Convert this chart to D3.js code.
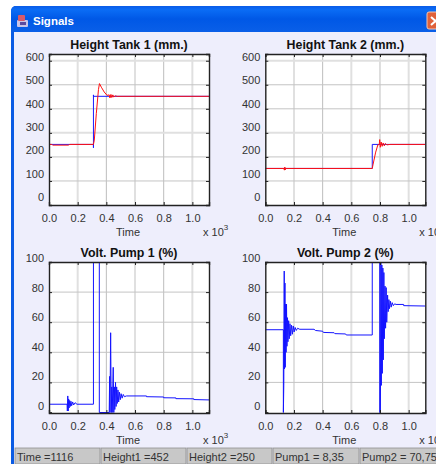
<!DOCTYPE html>
<html>
<head>
<meta charset="utf-8">
<script src="https://cdn.jsdelivr.net/npm/d3@7"></script>
<style>
  html, body { margin: 0; padding: 0; background: #fff; overflow: hidden; }
  svg { display: block; }
  text { font-family: "Liberation Sans", Arial, sans-serif; }
</style>
</head>
<body>
<svg id="win" width="436" height="464"></svg>
<script>
const timeTicks = [0, 200, 400, 600, 800, 1000];
const heightTicks = [0, 100, 200, 300, 400, 500, 600];
const voltTicks = [0, 20, 40, 60, 80, 100];
const statusLabels = ["Time =1116", "Height1 =452", "Height2 =250", "Pump1 = 8,35", "Pump2 = 70,75"];

// [time, value]
const tank1Setpoint = [[0, 252], [310, 252], [310, 238], [310, 458], [310, 452], [1116, 452]];
const tank1Level = [[0, 252], [20, 252], [25, 249], [135, 249], [145, 252], [310, 252], [316, 270], [330, 380], [345, 480], [352, 505], [365, 490], [385, 470], [405, 456], [420, 458], [425, 445], [432, 460], [438, 447], [445, 458], [452, 449], [462, 454], [475, 452], [1116, 452]];
const tank2Setpoint = [[0, 152], [746, 152], [746, 252], [1116, 252]];
const tank2Level = [[0, 152], [130, 152], [133, 145], [136, 158], [139, 146], [142, 152], [746, 152], [752, 170], [770, 220], [785, 250], [795, 252], [798, 272], [802, 240], [808, 262], [815, 244], [822, 258], [830, 246], [838, 256], [848, 250], [870, 252], [1116, 252]];
const pump1Volt = [[0, 5.5], [126, 5.5], [128, 1], [131, 11], [134, 1], [137, 9], [140, 3], [144, 8], [148, 4], [153, 7.5], [158, 4.5], [165, 7], [172, 5], [182, 6.5], [195, 5.5], [310, 5.5], [310, 100], [351, 100], [351, 0], [420, 0], [423, 24], [425, 0], [430, 53], [434, 0], [438, 17], [441, 0], [448, 30], [452, 0], [456, 17], [459, 2], [464, 20], [468, 4], [472, 17], [476, 6], [481, 15], [486, 7], [491, 13.5], [497, 8.5], [503, 12.5], [510, 9.5], [518, 12], [526, 10.5], [540, 11], [680, 11], [680, 10.5], [800, 10.3], [800, 9.8], [885, 9.7], [885, 9.2], [1010, 9.1], [1010, 8.6], [1116, 8.35]];
const pump2Volt = [[0, 55], [126, 55], [126, 0], [129, 18], [132, 94], [134, 29], [137, 86], [139, 30], [142, 72], [145, 40], [148, 72], [151, 44], [155, 63], [158, 47], [163, 61], [167, 49], [172, 59], [177, 51], [183, 58], [189, 52], [195, 57.5], [201, 53.5], [208, 56.5], [216, 54.5], [225, 56], [240, 55.3], [340, 55.3], [350, 54.5], [400, 54], [405, 53.2], [480, 53], [485, 52.4], [560, 52.2], [565, 51.5], [746, 51.5], [746, 100], [798, 100], [798, 0], [803, 0], [806, 100], [809, 18], [813, 98], [816, 26], [820, 96], [823, 35], [827, 93], [830, 49], [835, 84], [839, 56], [843, 83], [847, 60], [853, 78], [857, 67], [862, 75], [866, 69], [872, 74], [878, 70], [885, 73], [893, 71], [902, 72.2], [912, 71.8], [965, 71.8], [965, 71], [1116, 70.75]];

const svg = d3.select("#win");

// window frame
const titleGrad = svg.append("defs").append("linearGradient")
  .attr("id", "titleGrad").attr("x1", 0).attr("y1", 0).attr("x2", 0).attr("y2", 1);
titleGrad.append("stop").attr("offset", "0%").attr("stop-color", "#0a5ce8");
titleGrad.append("stop").attr("offset", "15%").attr("stop-color", "#0a6cf5");
titleGrad.append("stop").attr("offset", "50%").attr("stop-color", "#0058e6");
titleGrad.append("stop").attr("offset", "100%").attr("stop-color", "#0a5fe8");

svg.append("rect").attr("x", 11).attr("y", 6).attr("width", 440).attr("height", 470).attr("rx", 5).attr("fill", "#0a5be4");
svg.append("rect").attr("x", 11).attr("y", 6).attr("width", 440).attr("height", 26).attr("rx", 5).attr("fill", "url(#titleGrad)");
svg.append("rect").attr("x", 14).attr("y", 32).attr("width", 430).attr("height", 440).attr("fill", "#eeeefc");

// title icon + caption
svg.append("rect").attr("x", 17).attr("y", 20).attr("width", 11).attr("height", 7).attr("rx", 1).attr("fill", "#c9c4e8");
svg.append("rect").attr("x", 18).attr("y", 15).attr("width", 7).attr("height", 6).attr("rx", 1).attr("fill", "#d65a6a");
svg.append("rect").attr("x", 20).attr("y", 22).attr("width", 6).attr("height", 3).attr("fill", "#5a4aa0");
svg.append("text").attr("x", 33).attr("y", 25).attr("fill", "#fff").attr("font-size", 11.5).attr("font-weight", "bold").text("Signals");

// close button
svg.append("rect").attr("x", 427).attr("y", 12).attr("width", 20).attr("height", 17).attr("rx", 2).attr("fill", "#e0613a").attr("stroke", "#f3c5b0");
svg.append("path").attr("d", "M431 17L440 25M440 17L431 25").attr("stroke", "#fff").attr("stroke-width", 2).attr("fill", "none");

const panels = [
  { title: "Height Tank 1 (mm.)", left: 49, top: 54, ticks: heightTicks, domain: [0, 628], zero: 205, labelRange: [197, 57], lines: [[tank1Setpoint, "#1a1aff"], [tank1Level, "#ff1010"]], titleY: 49, rowY: 218 },
  { title: "Height Tank 2 (mm.)", left: 265.3, top: 54, ticks: heightTicks, domain: [0, 628], zero: 205, labelRange: [197, 57], lines: [[tank2Setpoint, "#1a1aff"], [tank2Level, "#ff1010"]], titleY: 49, rowY: 218 },
  { title: "Volt. Pump 1 (%)", left: 49, top: 262, ticks: voltTicks, domain: [0, 100], zero: 412.5, labelRange: [406, 258], lines: [[pump1Volt, "#1414ff"]], titleY: 257, rowY: 426 },
  { title: "Volt. Pump 2 (%)", left: 265.3, top: 262, ticks: voltTicks, domain: [0, 100], zero: 412.5, labelRange: [406, 258], lines: [[pump2Volt, "#1414ff"]], titleY: 257, rowY: 426 }
];

panels.forEach((p, i) => {
  const w = 160;
  const x = d3.scaleLinear().domain([0, 1116]).range([p.left, p.left + w]);
  const y = d3.scaleLinear().domain(p.domain).range([p.zero, p.top]);
  const labelY = d3.scaleLinear().domain([0, d3.max(p.ticks)]).range(p.labelRange);
  const bottom = p.top + 151;

  const g = svg.append("g");
  g.append("rect").attr("x", p.left).attr("y", p.top).attr("width", w).attr("height", 151).attr("fill", "#fff");

  // grid, alternate lines come out wider in the original
  g.selectAll(".gx").data(timeTicks.slice(1)).enter().append("line")
    .attr("x1", d => x(d)).attr("x2", d => x(d)).attr("y1", p.top).attr("y2", bottom)
    .attr("stroke", (d, k) => k % 2 ? "#bdbdbd" : "#e0e0e0")
    .attr("stroke-width", (d, k) => k % 2 ? 1 : 2);
  g.selectAll(".gy").data(p.ticks.filter(d => d > 0 && d < p.domain[1])).enter().append("line")
    .attr("x1", p.left).attr("x2", p.left + w).attr("y1", d => y(d)).attr("y2", d => y(d))
    .attr("stroke", d => (d === 600 || d === 300) ? "#e0e0e0" : "#c4c4c4")
    .attr("stroke-width", d => (d === 600 || d === 300) ? 2 : 1);

  // signals
  const clipId = "clip" + i;
  g.append("clipPath").attr("id", clipId).append("rect")
    .attr("x", p.left).attr("y", p.top).attr("width", w).attr("height", 151);
  const line = d3.line().x(d => x(d[0])).y(d => y(d[1]));
  p.lines.forEach(l => {
    g.append("path").attr("d", line(l[0])).attr("fill", "none")
      .attr("stroke", l[1]).attr("stroke-width", 1).attr("clip-path", "url(#" + clipId + ")");
  });

  // axes
  const xAxis = g.append("g").attr("transform", "translate(0," + bottom + ")")
    .call(d3.axisBottom(x).tickValues(timeTicks).tickSize(-3).tickPadding(8).tickFormat(d => (d / 1000).toFixed(1)));
  const xTop = g.append("g").attr("transform", "translate(0," + p.top + ")")
    .call(d3.axisTop(x).tickValues(timeTicks).tickSize(-3).tickFormat(""));
  const yAxis = g.append("g").attr("transform", "translate(" + p.left + ",0)")
    .call(d3.axisLeft(y).tickValues(p.ticks).tickSize(-3).tickPadding(5));
  const yRight = g.append("g").attr("transform", "translate(" + (p.left + w) + ",0)")
    .call(d3.axisRight(y).tickValues(p.ticks).tickSize(-3).tickFormat(""));

  [xAxis, xTop, yAxis, yRight].forEach(a => {
    a.selectAll("path").attr("stroke", "#222").attr("stroke-width", 1.4);
    a.selectAll("line").attr("stroke", "#222");
    a.selectAll("text").attr("font-family", '"Liberation Sans", Arial, sans-serif').attr("font-size", 11).attr("fill", "#333");
  });
  xAxis.selectAll("text").attr("dy", null).attr("y", p.rowY + 4 - bottom);
  // the y labels sit a bit above their ticks in the original
  yAxis.selectAll("text").attr("transform", d => "translate(0," + (labelY(d) - y(d)) + ")");
  yAxis.selectAll("text").attr("x", -5);

  g.append("text").attr("x", p.left + 80).attr("y", p.titleY).attr("text-anchor", "middle")
    .attr("font-size", 12.4).attr("font-weight", "bold").attr("fill", "#111").text(p.title);
  g.append("text").attr("x", p.left + 79).attr("y", p.rowY + 18).attr("text-anchor", "middle")
    .attr("font-size", 11).attr("fill", "#333").text("Time");
  const ex = g.append("text").attr("x", p.left + 154).attr("y", p.rowY + 18).attr("font-size", 11).attr("fill", "#333");
  ex.append("tspan").text("x 10");
  ex.append("tspan").attr("dy", -6).attr("font-size", 8).text("3");
});

// status bar
const cellX = [15, 101, 187, 273, 360];
const cellEnd = [100, 186, 272, 359, 450];
const cells = svg.selectAll(".cell").data(statusLabels).enter().append("g");
cells.append("rect").attr("x", (d, i) => cellX[i]).attr("y", 448).attr("width", (d, i) => cellEnd[i] - cellX[i]).attr("height", 16)
  .attr("fill", "#c8c8c8").attr("stroke", "#8f8f8f").attr("stroke-width", 0.8);
cells.append("text").attr("x", (d, i) => cellX[i] + 2).attr("y", 461).attr("font-size", 11).attr("fill", "#333").text(d => d);
</script>
</body>
</html>
